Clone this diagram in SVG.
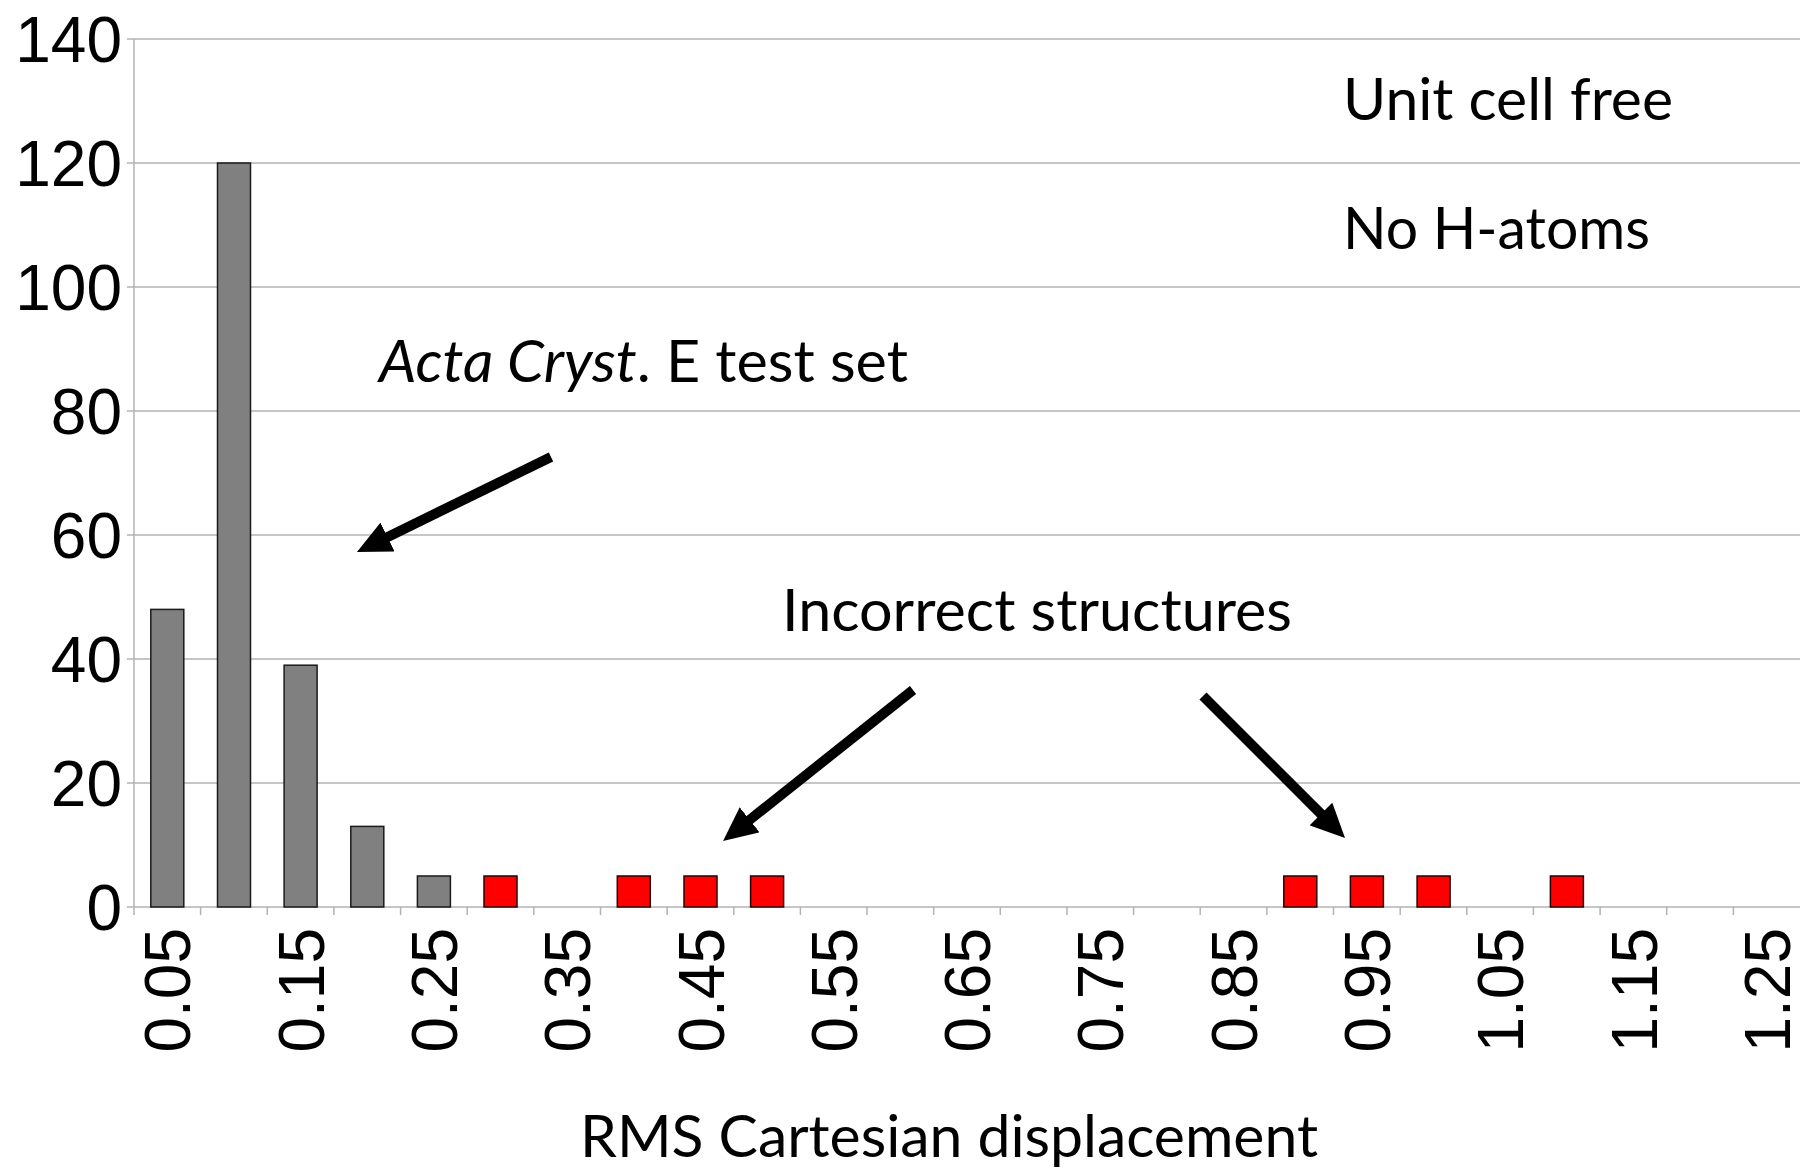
<svg xmlns="http://www.w3.org/2000/svg" width="1800" height="1168" viewBox="0 0 1800 1168">
<style>
.grid{stroke:#b3b3b3;stroke-width:1.5;fill:none}
.ax{stroke:#b3b3b3;stroke-width:1.5;fill:none}
.ylab{font-family:"Liberation Sans",Arial,sans-serif;font-size:64px;fill:#000;text-anchor:end}
.xlab{font-family:"Liberation Sans",Arial,sans-serif;font-size:64px;fill:#000;text-anchor:end}
.bar{fill:#808080;stroke:#1a1a1a;stroke-width:1.5}
.red{fill:#ff0000;stroke:#2a0000;stroke-width:1.5}
.note{font-family:Lato,"Open Sans",sans-serif;font-size:58px;fill:#000}
.arr{stroke:#000;stroke-width:10;fill:none}
</style>
<defs>
<marker id="ah" markerUnits="userSpaceOnUse" viewBox="0 0 34 32" markerWidth="34" markerHeight="32" refX="2" refY="16" orient="auto">
<path d="M0,0 L34,16 L0,32 z" fill="#000"/>
</marker>
</defs>
<rect width="1800" height="1168" fill="#fff"/>
<g id="gridlines">
<line class="grid" x1="127" y1="39" x2="1800" y2="39"/>
<line class="grid" x1="127" y1="163" x2="1800" y2="163"/>
<line class="grid" x1="127" y1="287" x2="1800" y2="287"/>
<line class="grid" x1="127" y1="411" x2="1800" y2="411"/>
<line class="grid" x1="127" y1="535" x2="1800" y2="535"/>
<line class="grid" x1="127" y1="659" x2="1800" y2="659"/>
<line class="grid" x1="127" y1="783" x2="1800" y2="783"/>
</g>
<g id="axes">
<line class="ax" x1="134" y1="39" x2="134" y2="907"/>
<line class="ax" x1="127" y1="907" x2="1800" y2="907"/>
<path class="ax" d="M134,907v8 M200.6,907v8 M267.3,907v8 M333.9,907v8 M400.6,907v8 M467.2,907v8 M533.8,907v8 M600.5,907v8 M667.1,907v8 M733.8,907v8 M800.4,907v8 M867,907v8 M933.7,907v8 M1000.3,907v8 M1067,907v8 M1133.6,907v8 M1200.2,907v8 M1266.9,907v8 M1333.5,907v8 M1400.2,907v8 M1466.8,907v8 M1533.4,907v8 M1600.1,907v8 M1666.7,907v8 M1733.4,907v8"/>
</g>
<g id="y-labels">
<text class="ylab" x="122" y="62">140</text>
<text class="ylab" x="122" y="186">120</text>
<text class="ylab" x="122" y="310">100</text>
<text class="ylab" x="122" y="434">80</text>
<text class="ylab" x="122" y="558">60</text>
<text class="ylab" x="122" y="682">40</text>
<text class="ylab" x="122" y="806">20</text>
<text class="ylab" x="122" y="930">0</text>
</g>
<g id="x-labels">
<text class="xlab" transform="translate(190.3,928) rotate(-90)">0.05</text>
<text class="xlab" transform="translate(323.6,928) rotate(-90)">0.15</text>
<text class="xlab" transform="translate(456.9,928) rotate(-90)">0.25</text>
<text class="xlab" transform="translate(590.2,928) rotate(-90)">0.35</text>
<text class="xlab" transform="translate(723.5,928) rotate(-90)">0.45</text>
<text class="xlab" transform="translate(856.8,928) rotate(-90)">0.55</text>
<text class="xlab" transform="translate(990.1,928) rotate(-90)">0.65</text>
<text class="xlab" transform="translate(1123.4,928) rotate(-90)">0.75</text>
<text class="xlab" transform="translate(1256.7,928) rotate(-90)">0.85</text>
<text class="xlab" transform="translate(1390,928) rotate(-90)">0.95</text>
<text class="xlab" transform="translate(1523.3,928) rotate(-90)">1.05</text>
<text class="xlab" transform="translate(1656.6,928) rotate(-90)">1.15</text>
<text class="xlab" transform="translate(1789.9,928) rotate(-90)">1.25</text>
</g>
<g id="bars">
<rect class="bar" x="150.8" y="609.4" width="33" height="297.6"/>
<rect class="bar" x="217.5" y="163" width="33" height="744"/>
<rect class="bar" x="284.1" y="665.2" width="33" height="241.8"/>
<rect class="bar" x="350.8" y="826.4" width="33" height="80.6"/>
<rect class="bar" x="417.4" y="876" width="33" height="31"/>
</g>
<g id="incorrect-bars">
<rect class="red" x="484" y="876" width="33" height="31"/>
<rect class="red" x="617.3" y="876" width="33" height="31"/>
<rect class="red" x="684" y="876" width="33" height="31"/>
<rect class="red" x="750.6" y="876" width="33" height="31"/>
<rect class="red" x="1283.8" y="876" width="33" height="31"/>
<rect class="red" x="1350.4" y="876" width="33" height="31"/>
<rect class="red" x="1417.1" y="876" width="33" height="31"/>
<rect class="red" x="1550.4" y="876" width="33" height="31"/>
</g>
<g id="label-unit-cell"><text class="note" x="1343" y="120" textLength="330" lengthAdjust="spacingAndGlyphs">Unit cell free</text></g>
<g id="label-no-h"><text class="note" x="1343" y="249" textLength="307" lengthAdjust="spacingAndGlyphs">No H-atoms</text></g>
<g id="label-acta"><text class="note" x="379" y="382" textLength="529" lengthAdjust="spacingAndGlyphs"><tspan font-style="italic">Acta Cryst</tspan>. E test set</text></g>
<g id="label-incorrect"><text class="note" x="782" y="631" textLength="510" lengthAdjust="spacingAndGlyphs">Incorrect structures</text></g>
<g id="axis-title"><text class="note" x="580" y="1157" textLength="738" lengthAdjust="spacingAndGlyphs">RMS Cartesian displacement</text></g>
<g id="connectors">
<line class="arr" x1="551" y1="457" x2="385.7" y2="537.9" marker-end="url(#ah)"/>
<line class="arr" x1="913" y1="690" x2="748.1" y2="821.1" marker-end="url(#ah)"/>
<line class="arr" x1="1203" y1="696" x2="1322.4" y2="815.4" marker-end="url(#ah)"/>
</g>
</svg>
